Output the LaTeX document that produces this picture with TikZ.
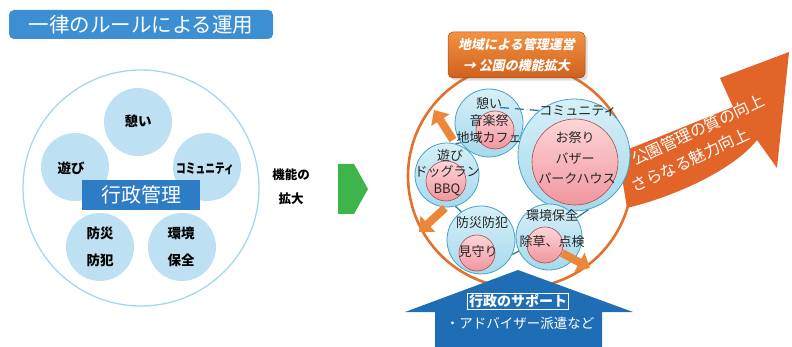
\documentclass[tikz,border=0pt]{standalone}
\usepackage{fontspec}
\setmainfont{Noto Sans CJK JP}
\newfontfamily\jpsl{Noto Sans CJK JP}[FakeSlant=0.2]
\usetikzlibrary{shadows,calc,arrows.meta}
\pgfdeclarelayer{background}
\pgfsetlayers{background,main}
\definecolor{ltitle}{RGB}{60,143,210}
\definecolor{lbox}{RGB}{47,124,198}
\definecolor{lcircfill}{RGB}{189,225,242}
\definecolor{lring}{RGB}{166,214,236}
\definecolor{garrow}{RGB}{61,181,74}
\definecolor{oring}{RGB}{226,114,42}
\definecolor{otop}{RGB}{242,146,66}
\definecolor{obot}{RGB}{208,96,28}
\definecolor{bigor}{RGB}{226,100,40}
\definecolor{bfill1}{RGB}{214,240,248}
\definecolor{bfill2}{RGB}{165,217,236}
\definecolor{bline}{RGB}{72,163,196}
\definecolor{pfill1}{RGB}{253,214,216}
\definecolor{pfill2}{RGB}{240,150,158}
\definecolor{pline}{RGB}{180,70,80}
\definecolor{conn}{RGB}{40,130,160}
\definecolor{supblue}{RGB}{31,109,181}
\definecolor{smallor}{RGB}{236,135,58}
\begin{document}
\begin{tikzpicture}[x=1pt,y=-1pt,
  lc/.style={circle, fill=lcircfill, minimum size=68pt, inner sep=0pt},
  lt/.style={font=\fontsize{13.5}{27}\selectfont\bfseries, align=center, inner sep=0pt},
  bc/.style={circle, draw=bline, line width=0.8pt, top color=bfill1, bottom color=bfill2, inner sep=0pt},
  pc/.style={circle, draw=pline, line width=0.6pt, top color=pfill1, bottom color=pfill2, inner sep=0pt},
  rt/.style={font=\fontsize{13}{13}\selectfont, inner sep=0pt, text=black!85},
  cline/.style={draw=conn, line width=1.3pt},
  orarrow/.style={draw=smallor, line width=8pt, -{Triangle[width=21pt,length=12pt]}},
  qt/.style={rotate=25, text=white, font=\fontsize{16}{16}\selectfont, inner sep=0pt}
]
\useasboundingbox (0,0) rectangle (792,347);

% ---------------- left part ----------------
\node[fill=ltitle, rounded corners=5pt, minimum width=264pt, minimum height=29pt, inner sep=0pt,
      text=white, font=\fontsize{20.5}{20.5}\selectfont] (ltitle) at (141,24.5) {一律のルールによる運用};
\node[circle, draw=lring, line width=1.3pt, minimum size=236pt, inner sep=0pt] (lring) at (141,188) {};
\node[lc] (lc1) at (138,122) {};
\node[lc] (lc2) at (75,167) {};
\node[lc] (lc3) at (207,167) {};
\node[lc] (lc4) at (100,247) {};
\node[lc] (lc5) at (182,247) {};
\node[lt] (lt1) at (138,121) {憩い};
\node[lt] (lt2) at (71,168) {遊び};
\node[lt, xscale=0.72] (lt3) at (205,169) {コミュニティ};
\node[lt] (lt4) at (100,247) {防災\\防犯};
\node[lt] (lt5) at (181,247) {環境\\保全};
\node[fill=lbox, minimum width=118pt, minimum height=30pt, inner sep=0pt, text=white,
      font=\fontsize{20}{20}\selectfont] (lbox) at (141,195) {行政管理};

% ---------------- middle ----------------
\node[font=\fontsize{12.5}{24}\selectfont\bfseries, align=center, inner sep=0pt] (mid) at (291,187) {機能の\\拡大};
\fill[garrow] (338,164) -- (354,164) -- (368,189) -- (354,214) -- (338,214) -- cycle;

% ---------------- right part ----------------
\node[circle, draw=oring, line width=2.6pt, minimum size=224pt, inner sep=0pt] (oring) at (520,176) {};

% big orange arrow
\fill[bigor] (618,153) .. controls (650,141) and (700,120) .. (733,107)
  -- (720,78) -- (789,52) -- (777,168) -- (757,140)
  .. controls (735,168) and (680,195) .. (627,208) -- cycle;
\node[qt] (q1) at (698,130) {公園管理の質の向上};
\node[qt] (q2) at (690,160) {さらなる魅力向上};

% blue circles
\node[bc, minimum size=68pt] (ikoi) at (489,123) {};
\node[bc, minimum size=112pt] (comm) at (574,155) {};
\node[bc, minimum size=64pt] (asobi) at (447,175) {};
\node[bc, minimum size=68pt] (bosai) at (481,240) {};
\node[bc, minimum size=66pt] (kankyo) at (549,237) {};
% pink circles
\node[pc, minimum size=38pt] (pikoi) at (495,130) {};
\node[pc, minimum size=86pt] (pcomm) at (575,162) {};
\node[pc, minimum size=40pt] (pasobi) at (446,181) {};
\node[pc, minimum size=36pt] (pbosai) at (477,253) {};
\node[pc, minimum size=36pt] (pkankyo) at (545,245) {};

\begin{pgfonlayer}{background}
\draw[cline] (ikoi.-145) -- (asobi.75);
\draw[cline] (asobi.-75) -- (bosai.125);
\draw[cline] (bosai.-25) -- (kankyo.-155);
\draw[cline] (kankyo.35) -- (comm.-75);
\end{pgfonlayer}
\draw[cline, dash pattern=on 9pt off 6pt] ($(ikoi.center)!0.55!(ikoi.55)$) -- (comm.128);

% texts in circles
\node[rt] (t1a) at (489,103) {憩い};
\node[rt] (t1b) at (489,121) {音楽祭};
\node[rt] (t1c) at (489,138) {地域カフェ};
\node[rt] (t2a) at (578,111) {コミュニティ};
\node[rt] (t2b) at (575,138) {お祭り};
\node[rt] (t2c) at (575,159) {バザー};
\node[rt] (t2d) at (577,179) {パークハウス};
\node[rt] (t3a) at (450,155) {遊び};
\node[rt] (t3b) at (447,172) {ドッグラン};
\node[rt] (t3c) at (447,190) {BBQ};
\node[rt] (t4a) at (482,223) {防災防犯};
\node[rt] (t4b) at (478,252) {見守り};
\node[rt] (t5a) at (552,216) {環境保全};
\node[rt] (t5b) at (552,242) {除草、点検};

% small orange arrows
\coordinate (a1s) at (453,140); \coordinate (a1e) at (434,110);
\coordinate (a2s) at (445,208); \coordinate (a2e) at (419,232);
\coordinate (a3s) at (562,253); \coordinate (a3e) at (590,268);
\draw[orarrow] (a1s) -- (a1e);
\draw[orarrow] (a2s) -- (a2e);
\draw[orarrow] (a3s) -- (a3e);

% orange title box
\node[rounded corners=5pt, top color=otop, bottom color=obot, draw=obot!80!black, line width=0.5pt,
      minimum width=137pt, minimum height=46pt, inner sep=0pt, text=white, align=center,
      font=\fontsize{13}{21}\selectfont\jpsl\bfseries, drop shadow={opacity=0.25}] (otitle) at (516.5,55)
      {地域による管理運営\\→ 公園の機能拡大};

% blue support arrow
\fill[supblue] (518,270) -- (633,312) -- (602,312) -- (602,347) -- (435,347) -- (435,312) -- (405,312) -- cycle;
\node[text=white, draw=white, line width=0.8pt, inner sep=1.2pt, font=\fontsize{14}{14}\selectfont\bfseries] (sup) at (518,301) {行政のサポート};
\node[text=white, inner sep=0pt, font=\fontsize{13.5}{13.5}\selectfont] (adv) at (520,323) {・アドバイザー派遣など};
\end{tikzpicture}
\end{document}
